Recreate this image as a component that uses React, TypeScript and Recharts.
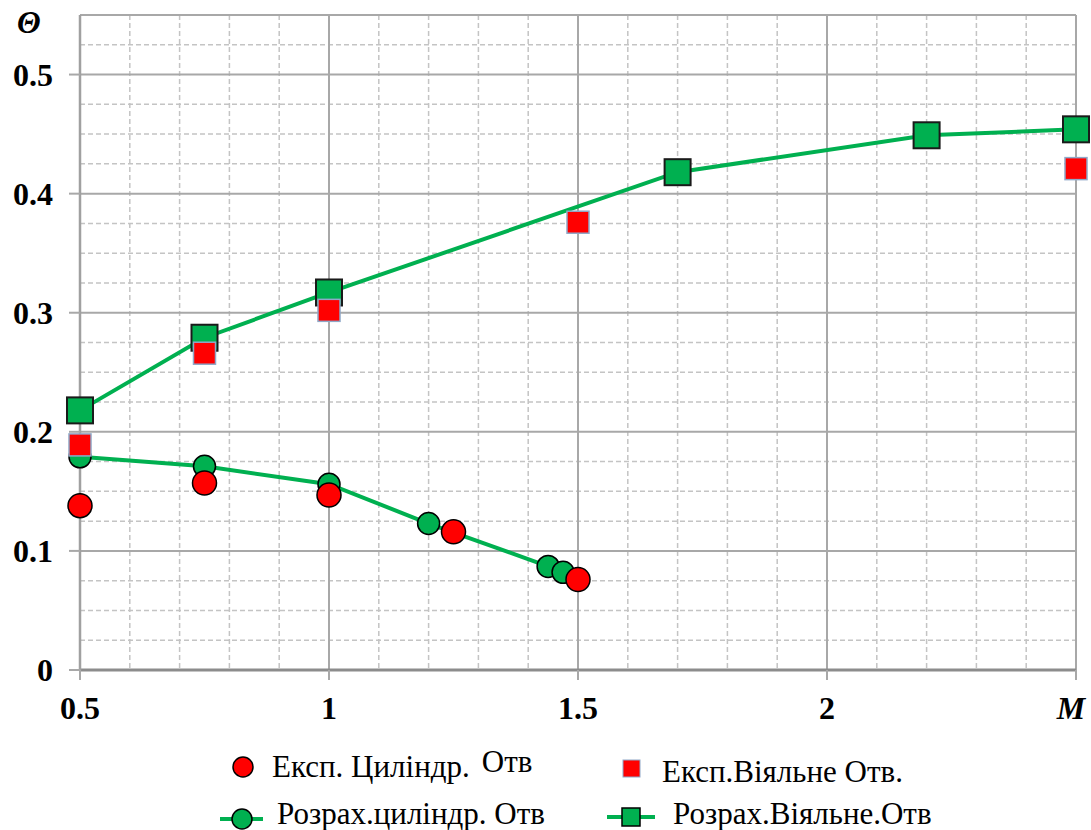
import React from "react";
import { ComposedChart, Line, XAxis, YAxis, CartesianGrid } from "recharts";

// Експ. Циліндр. Отв
const expCylX = [0.5, 0.75, 1.0, 1.25, 1.5];
const expCylY = [0.138, 0.157, 0.147, 0.116, 0.076];

// Експ.Віяльне Отв.
const expFanX = [0.5, 0.75, 1.0, 1.5, 2.5];
const expFanY = [0.189, 0.266, 0.302, 0.376, 0.421];

// Розрах.циліндр. Отв
const calcCylX = [0.5, 0.75, 1.0, 1.2, 1.44, 1.47];
const calcCylY = [0.179, 0.171, 0.156, 0.123, 0.087, 0.082];

// Розрах.Віяльне.Отв
const calcFanX = [0.5, 0.75, 1.0, 1.7, 2.2, 2.5];
const calcFanY = [0.218, 0.279, 0.317, 0.418, 0.449, 0.454];

const xDomain = [0.5, 2.5];
const yDomain = [0, 0.55];
const xTicks = [0.5, 1, 1.5, 2, 2.5];
const yTicks = [0, 0.1, 0.2, 0.3, 0.4, 0.5];
const xMinor = [0.6, 0.7, 0.8, 0.9, 1.1, 1.2, 1.3, 1.4, 1.6, 1.7, 1.8, 1.9, 2.1, 2.2, 2.3, 2.4];
const yMinor = [0.025, 0.05, 0.075, 0.125, 0.15, 0.175, 0.225, 0.25, 0.275, 0.325, 0.35, 0.375, 0.425, 0.45, 0.475, 0.525, 0.55];

const GREEN = "#00B050";
const RED = "#FF0000";
const FONT = "Times New Roman";

const zip = (xs: number[], ys: number[]) => xs.map((x, i) => ({ x, y: ys[i] }));

const expCyl = zip(expCylX, expCylY);
const expFan = zip(expFanX, expFanY);
const calcCyl = zip(calcCylX, calcCylY);
const calcFan = zip(calcFanX, calcFanY);

// eslint-disable-next-line @typescript-eslint/no-explicit-any
function circleDot(r: number, fill: string) {
  return (p: any) => (
    <circle key={`c-${fill}-${p.index}`} cx={p.cx} cy={p.cy} r={r} fill={fill} stroke="#000" strokeWidth={1.5} />
  );
}

// eslint-disable-next-line @typescript-eslint/no-explicit-any
function squareDot(s: number, fill: string, stroke: string, sw: number) {
  return (p: any) => (
    <rect
      key={`s-${fill}-${p.index}`}
      x={p.cx - s / 2}
      y={p.cy - s / 2}
      width={s}
      height={s}
      fill={fill}
      stroke={stroke}
      strokeWidth={sw}
    />
  );
}

// eslint-disable-next-line @typescript-eslint/no-explicit-any
function XTick({ x, y, payload }: any) {
  const isM = payload.value === 2.5;
  return (
    <text
      x={x}
      y={y}
      dx={isM ? -5 : 0}
      dy="0.71em"
      textAnchor="middle"
      fontFamily={FONT}
      fontWeight="bold"
      fontStyle={isM ? "italic" : "normal"}
      fontSize={32}
      fill="#000"
    >
      {isM ? "M" : String(payload.value)}
    </text>
  );
}

// eslint-disable-next-line @typescript-eslint/no-explicit-any
function YTick({ x, y, payload }: any) {
  return (
    <text x={x} y={y} dy="0.35em" textAnchor="end" fontFamily={FONT} fontWeight="bold" fontSize={32} fill="#000">
      {String(payload.value)}
    </text>
  );
}

// minor grid positions, mapped through the axis scale when available
// eslint-disable-next-line @typescript-eslint/no-explicit-any
const minorH = ({ yAxis, offset }: any) =>
  yMinor.map((v) =>
    typeof yAxis?.scale === "function"
      ? yAxis.scale(v)
      : offset.top + offset.height * (1 - (v - yDomain[0]) / (yDomain[1] - yDomain[0]))
  );
// eslint-disable-next-line @typescript-eslint/no-explicit-any
const minorV = ({ xAxis, offset }: any) =>
  xMinor.map((v) =>
    typeof xAxis?.scale === "function"
      ? xAxis.scale(v)
      : offset.left + (offset.width * (v - xDomain[0])) / (xDomain[1] - xDomain[0])
  );

function Label({ left, top, children }: { left: number; top: number; children: React.ReactNode }) {
  return (
    <div
      style={{
        position: "absolute",
        left,
        top,
        fontFamily: FONT,
        fontSize: 31,
        lineHeight: "31px",
        whiteSpace: "nowrap",
        color: "#000",
      }}
    >
      {children}
    </div>
  );
}

export default function App() {
  return (
    <div style={{ position: "absolute", left: 0, top: 0, width: 1091, height: 830, background: "#fff" }}>
      <ComposedChart width={1091} height={830} margin={{ top: 15, right: 15, left: 0, bottom: 120 }}>
        <CartesianGrid
          stroke="#c4c4c4"
          strokeWidth={1.5}
          strokeDasharray="5 3"
          horizontalCoordinatesGenerator={minorH}
          verticalCoordinatesGenerator={minorV}
        />
        <CartesianGrid stroke="#a8a8a8" strokeWidth={2} />
        <XAxis
          type="number"
          dataKey="x"
          domain={xDomain}
          ticks={xTicks}
          tick={<XTick />}
          tickSize={10}
          tickMargin={16}
          height={40}
          axisLine={{ stroke: "#8c8c8c", strokeWidth: 3 }}
          tickLine={{ stroke: "#a8a8a8", strokeWidth: 2 }}
        />
        <YAxis
          type="number"
          dataKey="y"
          domain={yDomain}
          ticks={yTicks}
          width={80}
          tickSize={11}
          tickMargin={16}
          tick={<YTick />}
          axisLine={{ stroke: "#a0a0a0", strokeWidth: 2.5 }}
          tickLine={{ stroke: "#a8a8a8", strokeWidth: 2 }}
        />
        <Line
          data={calcCyl}
          dataKey="y"
          type="linear"
          stroke={GREEN}
          strokeWidth={4}
          dot={circleDot(11, GREEN)}
          activeDot={false}
          isAnimationActive={false}
        />
        <Line
          data={calcFan}
          dataKey="y"
          type="linear"
          stroke={GREEN}
          strokeWidth={4}
          dot={squareDot(26, GREEN, "#1a1a1a", 2)}
          activeDot={false}
          isAnimationActive={false}
        />
        <Line
          data={expCyl}
          dataKey="y"
          stroke="none"
          dot={circleDot(12, RED)}
          activeDot={false}
          isAnimationActive={false}
        />
        <Line
          data={expFan}
          dataKey="y"
          stroke="none"
          dot={squareDot(22, RED, "#8fa8c8", 1.5)}
          activeDot={false}
          isAnimationActive={false}
        />
      </ComposedChart>

      {/* legend symbols */}
      <svg width={1091} height={830} style={{ position: "absolute", left: 0, top: 0, pointerEvents: "none" }}>
        <circle cx={243} cy={767} r={10} fill={RED} stroke="#000" strokeWidth={1.5} />
        <rect x={623} y={760} width={17} height={17} fill={RED} stroke="#8fa8c8" strokeWidth={1} />
        <line x1={220} y1={819} x2={263} y2={819} stroke={GREEN} strokeWidth={4} />
        <circle cx={242} cy={819} r={10} fill={GREEN} stroke="#000" strokeWidth={1.5} />
        <line x1={607} y1={817} x2={655} y2={817} stroke={GREEN} strokeWidth={4} />
        <rect x={622} y={808} width={18} height={18} fill={GREEN} stroke="#000" strokeWidth={1.5} />
      </svg>

      <div
        style={{
          position: "absolute",
          left: 17,
          top: 7,
          fontFamily: FONT,
          fontSize: 31,
          lineHeight: "31px",
          fontWeight: "bold",
          fontStyle: "italic",
          color: "#000",
        }}
      >
        Θ
      </div>

      <Label left={272} top={751}>
        Експ. Циліндр.<span style={{ position: "relative", top: -5, marginLeft: 12 }}>Отв</span>
      </Label>
      <Label left={662} top={756}>
        Експ.Віяльне Отв.
      </Label>
      <Label left={277} top={798}>
        Розрах.циліндр. Отв
      </Label>
      <Label left={673} top={798}>
        Розрах.Віяльне.Отв
      </Label>
    </div>
  );
}
